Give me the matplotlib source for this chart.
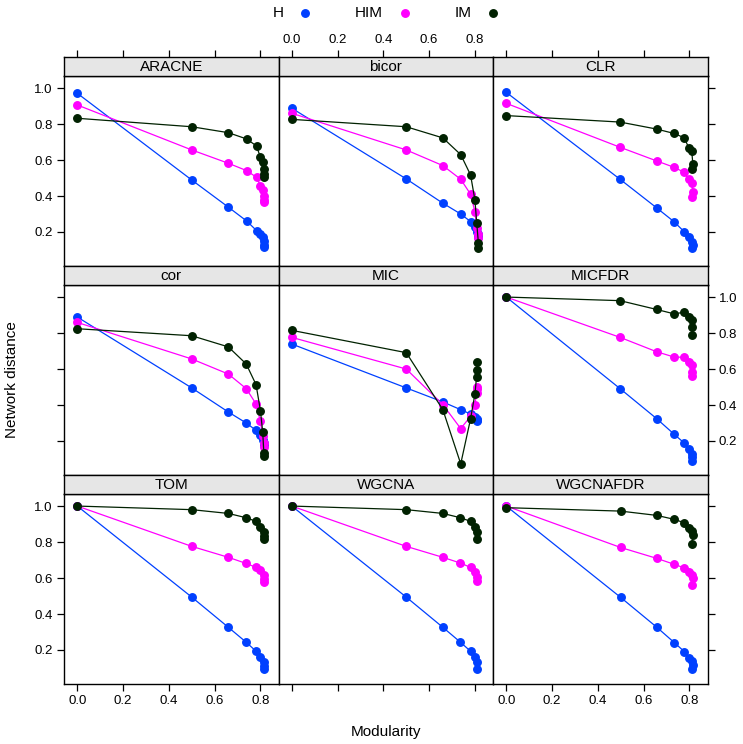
import matplotlib
matplotlib.use("Agg")
import matplotlib.pyplot as plt
from matplotlib.lines import Line2D

plt.rcParams['font.family'] = ['Liberation Sans', 'DejaVu Sans']

# ---------------------------------------------------------------------------
# Datos: modularidad (x) y distancia de red para H, HIM, IM en cada método
# ---------------------------------------------------------------------------
metodos = ["ARACNE", "bicor", "CLR", "cor", "MIC", "MICFDR", "TOM", "WGCNA", "WGCNAFDR"]

x_aracne = [0, 0.50, 0.66, 0.74, 0.783, 0.80, 0.81, 0.815, 0.815, 0.815]
h_aracne = [0.971, 0.489, 0.338, 0.261, 0.208, 0.189, 0.17, 0.15, 0.13, 0.115]
him_aracne = [0.906, 0.656, 0.582, 0.541, 0.504, 0.456, 0.434, 0.40, 0.38, 0.369]
im_aracne = [0.832, 0.785, 0.752, 0.717, 0.678, 0.615, 0.589, 0.55, 0.52, 0.508]

x_bicor = [0, 0.50, 0.66, 0.738, 0.781, 0.80, 0.808, 0.815, 0.815]
h_bicor = [0.888, 0.495, 0.360, 0.300, 0.258, 0.230, 0.202, 0.19, 0.174]
him_bicor = [0.860, 0.656, 0.569, 0.493, 0.410, 0.313, 0.221, 0.19, 0.165]
im_bicor = [0.826, 0.785, 0.723, 0.630, 0.517, 0.378, 0.249, 0.141, 0.113]

x_clr = [0, 0.497, 0.657, 0.732, 0.777, 0.797, 0.81, 0.815, 0.81]
h_clr = [0.976, 0.493, 0.334, 0.258, 0.202, 0.174, 0.146, 0.125, 0.110]
him_clr = [0.915, 0.671, 0.595, 0.560, 0.532, 0.493, 0.471, 0.421, 0.393]
im_clr = [0.847, 0.811, 0.772, 0.748, 0.724, 0.669, 0.652, 0.578, 0.548]

x_cor = [0, 0.50, 0.66, 0.738, 0.781, 0.80, 0.81, 0.815, 0.815]
h_cor = [0.889, 0.495, 0.361, 0.300, 0.259, 0.235, 0.208, 0.19, 0.180]
him_cor = [0.859, 0.656, 0.572, 0.491, 0.406, 0.309, 0.226, 0.19, 0.167]
im_cor = [0.824, 0.785, 0.723, 0.628, 0.513, 0.369, 0.250, 0.134, 0.115]

x_mic = [0, 0.50, 0.66, 0.738, 0.781, 0.80, 0.807, 0.81, 0.81]
h_mic = [0.739, 0.495, 0.417, 0.374, 0.350, 0.335, 0.324, 0.315, 0.31]
him_mic = [0.776, 0.600, 0.402, 0.269, 0.337, 0.402, 0.467, 0.49, 0.50]
im_mic = [0.815, 0.691, 0.374, 0.073, 0.323, 0.461, 0.554, 0.595, 0.639]

x_micfdr = [0, 0.497, 0.657, 0.732, 0.777, 0.797, 0.81, 0.812, 0.812]
h_micfdr = [1.0, 0.491, 0.324, 0.239, 0.189, 0.154, 0.13, 0.109, 0.091]
him_micfdr = [1.0, 0.776, 0.696, 0.667, 0.665, 0.637, 0.62, 0.581, 0.563]
im_micfdr = [1.0, 0.980, 0.931, 0.907, 0.915, 0.887, 0.87, 0.831, 0.791]

x_tom = [0, 0.50, 0.66, 0.738, 0.781, 0.80, 0.815, 0.815, 0.815]
h_tom = [1.0, 0.494, 0.326, 0.243, 0.193, 0.161, 0.133, 0.111, 0.096]
him_tom = [1.0, 0.776, 0.715, 0.681, 0.659, 0.643, 0.615, 0.596, 0.578]
im_tom = [1.0, 0.980, 0.959, 0.935, 0.915, 0.883, 0.856, 0.831, 0.815]

x_wgcna = [0, 0.50, 0.66, 0.737, 0.781, 0.80, 0.81, 0.81]
h_wgcna = [1.0, 0.494, 0.326, 0.243, 0.193, 0.161, 0.133, 0.096]
him_wgcna = [1.0, 0.776, 0.715, 0.683, 0.659, 0.633, 0.606, 0.581]
im_wgcna = [1.0, 0.980, 0.959, 0.935, 0.915, 0.883, 0.856, 0.819]

x_wgcnafdr = [0, 0.499, 0.658, 0.734, 0.778, 0.80, 0.812, 0.815, 0.81]
h_wgcnafdr = [1.0, 0.493, 0.326, 0.241, 0.191, 0.157, 0.137, 0.115, 0.096]
him_wgcnafdr = [1.0, 0.770, 0.709, 0.676, 0.656, 0.633, 0.615, 0.60, 0.563]
im_wgcnafdr = [0.991, 0.972, 0.948, 0.926, 0.907, 0.880, 0.861, 0.841, 0.787]

datos = {
    "ARACNE": (x_aracne, h_aracne, him_aracne, im_aracne),
    "bicor": (x_bicor, h_bicor, him_bicor, im_bicor),
    "CLR": (x_clr, h_clr, him_clr, im_clr),
    "cor": (x_cor, h_cor, him_cor, im_cor),
    "MIC": (x_mic, h_mic, him_mic, im_mic),
    "MICFDR": (x_micfdr, h_micfdr, him_micfdr, im_micfdr),
    "TOM": (x_tom, h_tom, him_tom, im_tom),
    "WGCNA": (x_wgcna, h_wgcna, him_wgcna, im_wgcna),
    "WGCNAFDR": (x_wgcnafdr, h_wgcnafdr, him_wgcnafdr, im_wgcnafdr),
}

series = ["H", "HIM", "IM"]
colores = ["#0040ff", "#ff00ff", "#012201"]
xticks = [0.0, 0.2, 0.4, 0.6, 0.8]
yticks = [0.2, 0.4, 0.6, 0.8, 1.0]

# ---------------------------------------------------------------------------
# Geometría (en píxeles, estilo lattice)
# ---------------------------------------------------------------------------
W, H = 743, 744
col_left = [64, 278.5, 493]
col_w = 214.5
strip_top = [57, 266, 475]
strip_h = 19
panel_h = 190
xlim = (-0.058, 0.879)
ylim = (0.011, 1.067)

fig = plt.figure(figsize=(W / 100, H / 100), dpi=100)

for i, metodo in enumerate(metodos):
    fila, col = divmod(i, 3)
    left = col_left[col] / W
    ptop = strip_top[fila] + strip_h
    ax = fig.add_axes([left, 1 - (ptop + panel_h) / H, col_w / W, panel_h / H])
    st = fig.add_axes([left, 1 - ptop / H, col_w / W, strip_h / H])

    xs, h, him, im = datos[metodo]
    for ys, c in zip([h, him, im], colores):
        ax.plot(xs, ys, color=c, lw=0.9, marker="o", ms=5.4, mec=c, mfc=c)
    ax.set_xlim(*xlim)
    ax.set_ylim(*ylim)

    # tira con el nombre del método
    st.set_facecolor("#e6e6e6")
    st.set_xlim(*xlim)
    st.set_yticks([])
    st.text(0.5, 0.45, metodo, transform=st.transAxes, ha="center", va="center", fontsize=11)

    for a in (ax, st):
        for s in a.spines.values():
            s.set_linewidth(1.0)

    # ejes x: arriba en la primera fila, abajo en la última
    st.tick_params(axis="x", which="both", direction="out", length=5, width=0.9,
                   bottom=False, labelbottom=False, top=(fila == 0),
                   labeltop=(fila == 0 and col == 1), labelsize=9.5, pad=3)
    st.set_xticks(xticks)
    st.set_xticklabels(["%.1f" % t for t in xticks])
    ax.set_xticks(xticks)
    ax.set_xticklabels(["%.1f" % t for t in xticks])
    ax.tick_params(axis="x", direction="out", length=5, width=0.9, top=False,
                   bottom=(fila == 2), labelbottom=(fila == 2 and col != 1),
                   labelsize=9.5, pad=3)

    # ejes y: izquierda en la primera columna, derecha en la última
    ax.set_yticks(yticks)
    ax.set_yticklabels(["%.1f" % t for t in yticks])
    ax.tick_params(axis="y", direction="out", length=5, width=0.9,
                   left=(col == 0), labelleft=(col == 0 and fila != 1),
                   right=(col == 2), labelright=(col == 2 and fila == 1),
                   labelsize=9.5, pad=3)

# leyenda superior
for nombre, c, xt, xd in zip(series, colores, [278, 369, 463], [305, 405, 493]):
    fig.text(xt / W, 1 - 13 / H, nombre, ha="center", va="center", fontsize=11)
    fig.add_artist(Line2D([xd / W], [1 - 13 / H], marker="o", ms=5.4, color=c,
                          transform=fig.transFigure))

fig.text(386 / W, 1 - 732 / H, "Modularity", ha="center", va="center", fontsize=11)
fig.text(12 / W, 1 - 380 / H, "Network distance", ha="center", va="center",
         rotation=90, fontsize=11)

fig.savefig("out.png", dpi=100)
